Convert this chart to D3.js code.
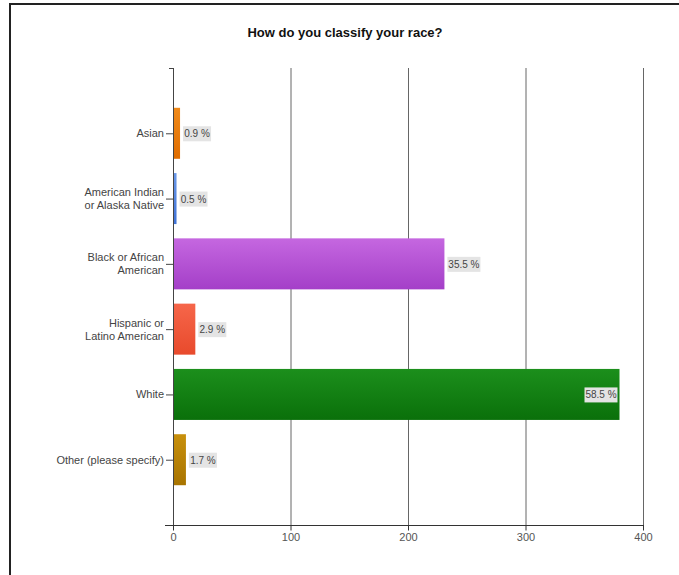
<!DOCTYPE html>
<html><head><meta charset="utf-8">
<script src="https://cdn.jsdelivr.net/npm/d3@7"></script>
<style>body{margin:0;background:#fff}svg{display:block}</style>
</head><body>
<script>
const title = "How do you classify your race?";
const categories = [["Asian"],["American Indian","or Alaska Native"],["Black or African","American"],["Hispanic or","Latino American"],["White"],["Other (please specify)"]];
const counts = [6,3,231,19,380,11];
const percents = ["0.9 %","0.5 %","35.5 %","2.9 %","58.5 %","1.7 %"];
const colors = [["#f08a1a","#e06d00"],["#6a98e8","#3f72d6"],["#c567e0","#a43fc8"],["#f6664a","#e84a2c"],["#1c8f1c","#0a700a"],["#c8900c","#a87400"]];
const xTicks = [0,100,200,300,400];

(function(){
const W=679,H=575;
const svg=d3.select("body").append("svg").attr("width",W).attr("height",H);
const font="'Liberation Sans', Arial, sans-serif";

// frame (top & left)
svg.append("path").attr("d","M10,575 V4 H679").attr("fill","none").attr("stroke","#222").attr("stroke-width",2);

svg.append("text").attr("x",345).attr("y",37).attr("text-anchor","middle")
  .attr("font-family",font).attr("font-weight","bold").attr("font-size",13).attr("fill","#111").text(title);

const pLeft=173, pTop=68, pBottom=525;
const x=d3.scaleLinear().domain([0,400]).range([pLeft,643]);
const y=d3.scaleLinear().domain([0,7]).range([pTop,pBottom]);
const idx=d3.range(categories.length);

const defs=svg.append("defs");
colors.forEach((c,i)=>{
  const g=defs.append("linearGradient").attr("id","g"+i).attr("x1",0).attr("y1",0).attr("x2",0).attr("y2",1);
  g.append("stop").attr("offset","0%").attr("stop-color",c[0]);
  g.append("stop").attr("offset","100%").attr("stop-color",c[1]);
});

// gridlines
svg.append("g").selectAll("line").data(xTicks.slice(1)).join("line")
  .attr("x1",d=>x(d)+0.5).attr("x2",d=>x(d)+0.5).attr("y1",pTop).attr("y2",pBottom)
  .attr("stroke","#666").attr("stroke-width",1);

// x axis
const xa=svg.append("g").attr("transform",`translate(0,${pBottom+0.5})`)
  .call(d3.axisBottom(x).tickValues(xTicks).tickSize(5).tickPadding(3));
xa.select(".domain").attr("d",`M${pLeft-8},0H${x(400)+1}`).attr("stroke","#333");
xa.selectAll(".tick line").attr("stroke","#333");
xa.selectAll("text").attr("font-family",font).attr("font-size",11).attr("fill","#555");

// y axis line
svg.append("line").attr("x1",pLeft+0.5).attr("x2",pLeft+0.5).attr("y1",pTop).attr("y2",pBottom)
  .attr("stroke","#444");
svg.append("line").attr("x1",pLeft-4).attr("x2",pLeft).attr("y1",pTop+0.5).attr("y2",pTop+0.5).attr("stroke","#444");

const bh=51;
// bars
svg.append("g").selectAll("rect").data(idx).join("rect")
  .attr("x",x(0)+1).attr("y",i=>y(i+1)-bh/2).attr("width",i=>x(counts[i])-x(0)-1).attr("height",bh)
  .attr("fill",i=>`url(#g${i})`);

// category ticks and labels
const cg=svg.append("g").selectAll("g").data(idx).join("g").attr("transform",i=>`translate(0,${y(i+1)})`);
cg.append("line").attr("x1",pLeft-7).attr("x2",pLeft).attr("y1",0.5).attr("y2",0.5).attr("stroke","#444");
cg.each(function(i){
  const lines=categories[i];
  const t=d3.select(this).append("text").attr("text-anchor","end").attr("font-family",font)
    .attr("font-size",11).attr("fill","#444");
  lines.forEach((l,k)=>{
    t.append("tspan").attr("x",pLeft-9).attr("y",(k-(lines.length-1)/2)*13+4).text(l);
  });
});

// value labels
idx.forEach(i=>{
  const xe=x(counts[i]);
  const bw=i===2||i===4?33:28;
  const inside = xe+bw+4>x(400)-20;
  const bx = inside? xe-bw-2 : xe+3;
  const g=svg.append("g").attr("transform",`translate(${bx},${y(i+1)})`);
  g.append("rect").attr("x",0).attr("y",-7).attr("width",bw).attr("height",15).attr("fill","#e4e4e4");
  g.append("text").attr("x",bw/2).attr("y",4).attr("text-anchor","middle").attr("font-family",font)
    .attr("font-size",10).attr("fill","#444").text(percents[i]);
});
})();
</script>
</body></html>
